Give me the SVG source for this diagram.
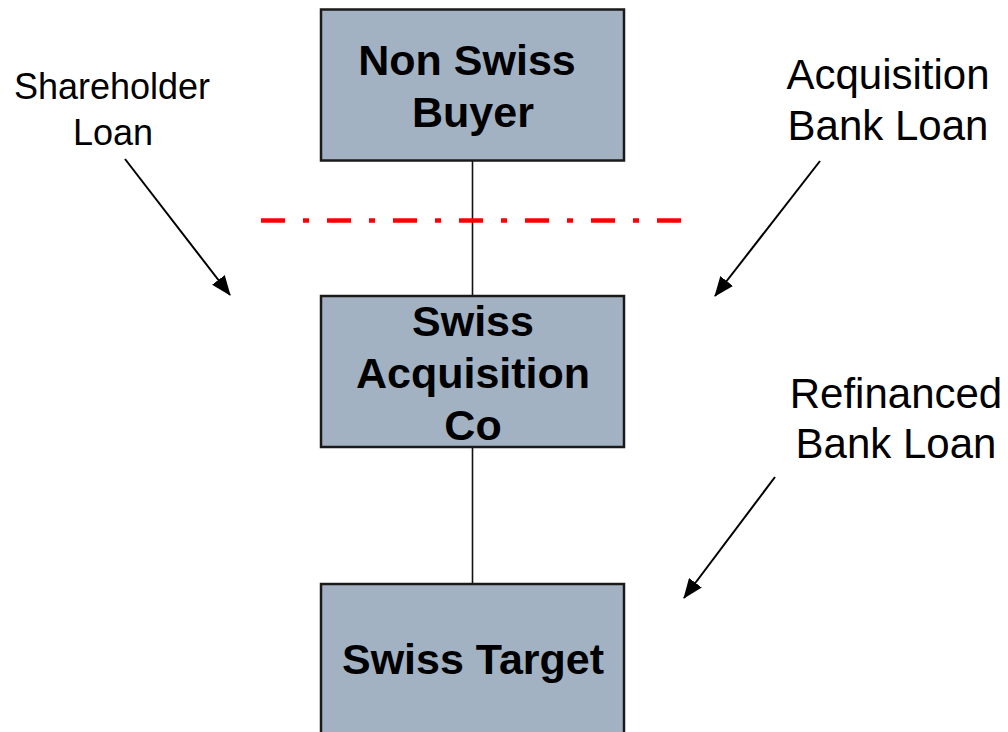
<svg xmlns="http://www.w3.org/2000/svg" width="1008" height="732" viewBox="0 0 1008 732">
  <style>
    .box { fill: #a3b2c2; stroke: #1a1a1a; stroke-width: 2.5; }
    .name { font-family: "Liberation Sans", Arial, sans-serif; font-weight: bold; font-size: 43px; fill: #000; text-anchor: middle; }
    .note { font-family: "Liberation Sans", Arial, sans-serif; font-size: 42px; fill: #000; text-anchor: middle; }
    .link { stroke: #111; stroke-width: 1.6; fill: none; }
    .arrow { stroke: #000; stroke-width: 2; fill: none; marker-end: url(#head); }
  </style>
  <defs>
    <marker id="head" markerUnits="userSpaceOnUse" markerWidth="20" markerHeight="16" refX="19" refY="8" orient="auto">
      <path d="M0,0 L20,8 L0,16 Z" fill="#000"/>
    </marker>
  </defs>
  <rect width="1008" height="732" fill="#fff"/>

  <g id="connectors">
    <line class="link" x1="472.5" y1="160" x2="472.5" y2="296"/>
    <line class="link" x1="472.5" y1="447" x2="472.5" y2="584"/>
    <line x1="261" y1="220.5" x2="681" y2="220.5" stroke="#ff0000" stroke-width="4.5" stroke-dasharray="24 18 6 18"/>
    <line class="arrow" x1="125" y1="159" x2="230" y2="295"/>
    <line class="arrow" x1="820" y1="161" x2="715" y2="296"/>
    <line class="arrow" x1="775" y1="477" x2="684" y2="598"/>
  </g>

  <g id="non-swiss-buyer">
    <rect class="box" x="321" y="9.5" width="303" height="151"/>
    <text class="name" x="467" y="75">Non Swiss</text>
    <text class="name" x="473" y="127">Buyer</text>
  </g>

  <g id="swiss-acquisition-co">
    <rect class="box" x="321" y="296" width="303" height="151"/>
    <text class="name" x="473" y="336">Swiss</text>
    <text class="name" x="473" y="388">Acquisition</text>
    <text class="name" x="473" y="440">Co</text>
  </g>

  <g id="swiss-target">
    <rect class="box" x="321" y="584" width="303" height="160"/>
    <text class="name" x="473" y="674">Swiss Target</text>
  </g>

  <g id="shareholder-loan">
    <text class="note" x="112" y="99" style="font-size:36px">Shareholder</text>
    <text class="note" x="113" y="145" style="font-size:36px">Loan</text>
  </g>

  <g id="acquisition-bank-loan">
    <text class="note" x="888" y="89">Acquisition</text>
    <text class="note" x="888" y="140">Bank Loan</text>
  </g>

  <g id="refinanced-bank-loan">
    <text class="note" x="896" y="408">Refinanced</text>
    <text class="note" x="896" y="458">Bank Loan</text>
  </g>
</svg>
